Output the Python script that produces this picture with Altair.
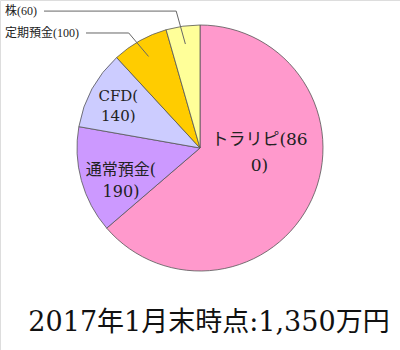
import altair as alt
import pandas as pd

categories = ["トラリピ", "通常預金", "CFD", "定期預金", "株"]
values = [860, 190, 140, 100, 60]
colors = ["#FF99CC", "#CC99FF", "#CCCCFF", "#FFCC00", "#FFFF99"]
inner_labels = ["トラリピ(86\n0)", "通常預金(\n190)", "CFD(\n140)", "", ""]
outer_labels = ["", "", "", "定期預金(100)", "株(60)"]
title_text = "2017年1月末時点:1,350万円"

CX, CY, R = 200, 148, 123
SERIF = "DejaVu Serif, Noto Sans CJK JP"
SMALL = "Liberation Serif, Noto Sans CJK JP"


def est_width(s, size):
    w = 0.0
    for ch in s:
        w += size if ord(ch) > 0x2000 else size * 0.5
    return w


df = pd.DataFrame({
    "cat": categories,
    "value": values,
    "order": list(range(len(categories))),
    "inner": inner_labels,
    "outer": outer_labels,
    "lstart": [5 + est_width(s, 12) + 3 for s in outer_labels],
})

base = (
    alt.Chart(df)
    .transform_joinaggregate(total="sum(value)")
    .transform_window(cum="sum(value)", sort=[alt.SortField("order")], frame=[None, 0])
    .transform_calculate(mid="(datum.cum - datum.value/2) / datum.total * 2 * PI")
)

pie = alt.Chart(df).mark_arc(outerRadius=R, stroke="#555555", strokeWidth=0.8).encode(
    theta=alt.Theta("value:Q", stack=True),
    order=alt.Order("order:Q"),
    x=alt.value(CX),
    y=alt.value(CY),
    color=alt.Color("cat:N", scale=alt.Scale(domain=categories, range=colors), legend=None),
)


def inner_layer(cat, r, size, lh, dx=0, dy=0):
    return (
        base.transform_filter(alt.datum.cat == cat)
        .transform_calculate(
            px=f"{CX} + {r} * sin(datum.mid)",
            py=f"{CY} - {r} * cos(datum.mid)",
        )
        .mark_text(font=SERIF, fontSize=size, lineBreak="\n", lineHeight=lh,
                   align="center", baseline="middle", color="#222222", dx=dx, dy=dy)
        .encode(x=alt.X("px:Q", scale=None), y=alt.Y("py:Q", scale=None), text="inner:N")
    )


lab1 = inner_layer("トラリピ", 60, 17, 26, dx=5, dy=-33)
lab2 = inner_layer("通常預金", 84, 16, 22, dx=2, dy=0)
lab3 = inner_layer("CFD", 92, 15, 20, dx=-1, dy=-8)

outer = base.transform_filter(alt.datum.outer != "").transform_calculate(
    ex="%d + 137 * sin(datum.mid - 0.035)" % CX,
    ey="%d - 137 * cos(datum.mid - 0.035) + (datum.cat == '株' ? -2 : 2)" % CY,
    tx="%d + 105 * sin(datum.mid)" % CX,
    ty="%d - 105 * cos(datum.mid)" % CY,
)

hline = outer.mark_rule(color="#666666", strokeWidth=1).encode(
    x=alt.X("lstart:Q", scale=None), x2="ex:Q",
    y=alt.Y("ey:Q", scale=None), y2="ey:Q",
)
dline = outer.mark_rule(color="#666666", strokeWidth=1).encode(
    x=alt.X("ex:Q", scale=None), x2="tx:Q",
    y=alt.Y("ey:Q", scale=None), y2="ty:Q",
)
otext = outer.mark_text(font=SMALL, fontSize=12, align="left", baseline="middle",
                        color="#222222").encode(
    x=alt.value(5), y=alt.Y("ey:Q", scale=None), text="outer:N"
)

title = alt.Chart(pd.DataFrame({"t": [title_text]})).mark_text(
    font=SERIF, fontSize=27, color="#111111", align="center", baseline="middle"
).encode(x=alt.value(209), y=alt.value(323), text="t:N")

chart = (
    alt.layer(pie, lab1, lab2, lab3, hline, dline, otext, title)
    .properties(
        width=400, height=350,
        autosize=alt.AutoSizeParams(type="none"),
        padding=0,
    )
    .configure_view(strokeWidth=0, stroke="transparent")
    .configure(background="white")
)

chart.save("out.html", embed_options={"renderer": "svg", "actions": False})
